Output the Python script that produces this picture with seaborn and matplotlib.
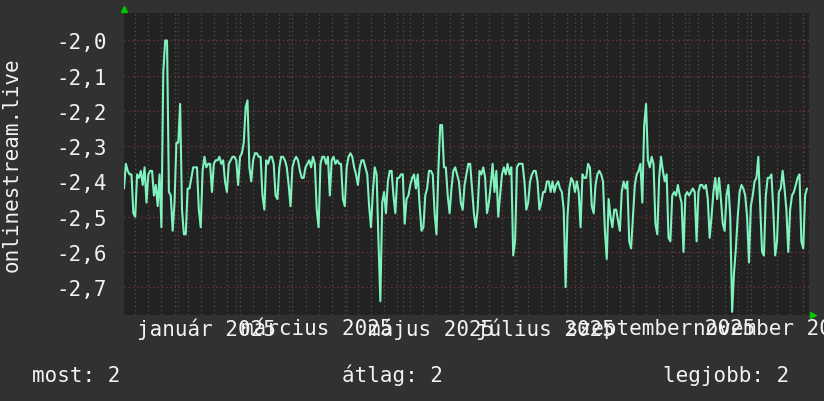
import matplotlib
matplotlib.use('Agg')
from matplotlib import pyplot as plt
from matplotlib import ticker
import numpy as np
import pandas as pd
import seaborn as sns

# daily values, first day 2024-12-03
start_day = '2024-12-03'
values = [
    -2.42, -2.35, -2.37, -2.38, -2.38, -2.49, -2.50, -2.38, -2.39, -2.37,
    -2.41, -2.36, -2.46, -2.38, -2.37, -2.37, -2.44, -2.41, -2.47, -2.38,
    -2.53, -2.09, -2.00, -2.00, -2.43, -2.44, -2.54, -2.46, -2.29, -2.29,
    -2.18, -2.48, -2.55, -2.55, -2.42, -2.42, -2.39, -2.36, -2.36, -2.36,
    -2.48, -2.53, -2.37, -2.33, -2.36, -2.35, -2.35, -2.43, -2.35, -2.34,
    -2.34, -2.33, -2.35, -2.34, -2.40, -2.43, -2.35, -2.34, -2.33, -2.33,
    -2.34, -2.41, -2.33, -2.32, -2.29, -2.19, -2.17, -2.36, -2.40, -2.34,
    -2.32, -2.32, -2.33, -2.33, -2.44, -2.48, -2.34, -2.35, -2.33, -2.33,
    -2.35, -2.44, -2.45, -2.36, -2.33, -2.33, -2.34, -2.36, -2.41, -2.47,
    -2.36, -2.34, -2.33, -2.34, -2.37, -2.39, -2.39, -2.36, -2.35, -2.34,
    -2.36, -2.33, -2.35, -2.48, -2.53, -2.35, -2.33, -2.33, -2.35, -2.33,
    -2.44, -2.34, -2.33, -2.35, -2.34, -2.35, -2.35, -2.45, -2.47, -2.36,
    -2.33, -2.32, -2.33, -2.36, -2.38, -2.41, -2.36, -2.34, -2.34, -2.36,
    -2.38, -2.47, -2.53, -2.43, -2.36, -2.38, -2.57, -2.74, -2.46, -2.43,
    -2.49, -2.40, -2.37, -2.37, -2.44, -2.49, -2.39, -2.39, -2.38, -2.38,
    -2.52, -2.45, -2.44, -2.41, -2.39, -2.38, -2.42, -2.38, -2.47, -2.54,
    -2.53, -2.44, -2.42, -2.37, -2.37, -2.38, -2.49, -2.55, -2.37, -2.24,
    -2.24, -2.36, -2.36, -2.44, -2.49, -2.42, -2.37, -2.36, -2.38, -2.40,
    -2.46, -2.48, -2.41, -2.38, -2.35, -2.35, -2.42, -2.49, -2.53, -2.48,
    -2.37, -2.38, -2.36, -2.39, -2.49, -2.46, -2.41, -2.35, -2.43, -2.37,
    -2.50, -2.44, -2.38, -2.36, -2.38, -2.35, -2.38, -2.36, -2.61, -2.57,
    -2.36, -2.35, -2.35, -2.35, -2.40, -2.48, -2.46, -2.40, -2.38, -2.37,
    -2.37, -2.40, -2.48, -2.46, -2.43, -2.43, -2.40, -2.40, -2.43, -2.40,
    -2.43, -2.41, -2.40, -2.42, -2.43, -2.48, -2.70, -2.50, -2.42, -2.39,
    -2.40, -2.43, -2.40, -2.43, -2.53, -2.38, -2.39, -2.39, -2.35, -2.36,
    -2.47, -2.49, -2.41, -2.38, -2.37, -2.38, -2.40, -2.54, -2.62, -2.45,
    -2.50, -2.53, -2.48, -2.48, -2.51, -2.54, -2.43, -2.40, -2.42, -2.40,
    -2.57, -2.59, -2.50, -2.41, -2.38, -2.37, -2.35, -2.46, -2.24, -2.18,
    -2.34, -2.36, -2.33, -2.35, -2.52, -2.55, -2.39, -2.33, -2.37, -2.40,
    -2.38, -2.56, -2.57, -2.44, -2.43, -2.44, -2.41, -2.44, -2.46, -2.60,
    -2.44, -2.43, -2.44, -2.43, -2.42, -2.43, -2.57, -2.43, -2.41, -2.41,
    -2.42, -2.41, -2.45, -2.56, -2.50, -2.43, -2.39, -2.45, -2.39, -2.45,
    -2.52, -2.54, -2.44, -2.41, -2.50, -2.77, -2.66, -2.59, -2.50, -2.43,
    -2.41, -2.42, -2.44, -2.50, -2.63, -2.47, -2.44, -2.40, -2.39, -2.33,
    -2.47, -2.60, -2.61, -2.44, -2.39, -2.39, -2.38, -2.48, -2.61, -2.57,
    -2.43, -2.42, -2.37, -2.42, -2.48, -2.60, -2.48, -2.44, -2.43, -2.41,
    -2.39, -2.38, -2.57, -2.59, -2.44, -2.42,
]

y_ticks = [-2.7, -2.6, -2.5, -2.4, -2.3, -2.2, -2.1, -2.0]
month_labels = ['január 2025', 'március 2025', 'május 2025',
                'július 2025', 'szeptember 2025', 'november 2025']
label_days = ['2025-01-16', '2025-03-16', '2025-05-16',
              '2025-07-16', '2025-09-16', '2025-11-16']
series_name = 'onlinestream.live'
stat_names = ['most', 'átlag', 'legjobb']
stat_values = ['2', '2', '2']

bg = '#313131'
plot_bg = '#222222'
line_color = '#7ff2bd'
major_grid = '#6a3636'
minor_grid = '#4e4e4e'
text_color = '#f2f2f2'

sns.set_theme(style='dark', rc={'axes.facecolor': plot_bg, 'figure.facecolor': bg})
plt.rcParams['font.family'] = ['DejaVu Sans Mono', 'DejaVu Sans']

df = pd.DataFrame({'day': pd.date_range(start_day, periods=len(values), freq='D'),
                   'value': values})

fig = plt.figure(figsize=(8.24, 4.02), dpi=100, facecolor=bg)
ax = fig.add_axes([124 / 824, 86 / 402, 685 / 824, 302 / 402])
ax.set_facecolor(plot_bg)

# weekly (monday) and monthly grid lines
dotted = (0, (1, 2))
for d in pd.date_range('2024-12-09', '2025-12-04', freq='7D'):
    ax.axvline(d, color=minor_grid, lw=1, ls=dotted, zorder=1)
for d in pd.date_range('2025-01-01', '2025-12-01', freq='MS'):
    ax.axvline(d, color=major_grid, lw=1, ls=dotted, zorder=1)
for y in y_ticks:
    ax.axhline(y, color=major_grid, lw=1, ls=dotted, zorder=1)

sns.lineplot(data=df, x='day', y='value', ax=ax, color=line_color, lw=1.5, zorder=3)

ax.set_xlim(pd.Timestamp('2024-12-03'), pd.Timestamp('2025-12-04 02:00'))
ax.set_ylim(-2.779, -1.922)
ax.set_yticks(y_ticks)
ax.yaxis.set_major_formatter(ticker.FuncFormatter(lambda v, p: f'{v:.1f}'.replace('.', ',')))
ax.set_xticks(pd.to_datetime(label_days))
ax.set_xticklabels(month_labels)
ax.tick_params(axis='both', length=0, colors=text_color, labelsize=15)
ax.tick_params(axis='y', pad=12)
ax.tick_params(axis='x', pad=2)
ax.set_xlabel('')
ax.set_ylabel('')
ax.grid(False)
for s in ax.spines.values():
    s.set_visible(False)

# green arrow heads of the axes
ax.plot([0], [1.012], marker='^', ms=5, color='#00c800', transform=ax.transAxes, clip_on=False)
ax.plot([1.006], [0], marker='>', ms=5, color='#00c800', transform=ax.transAxes, clip_on=False)

fig.text(12 / 824, 237 / 402, series_name, rotation=90, ha='center', va='center',
         color=text_color, fontsize=15)

stat_x = [32, 342, 663]
for x, name, val in zip(stat_x, stat_names, stat_values):
    fig.text(x / 824, 20 / 402, f'{name}: {val}', ha='left', va='baseline',
             color=text_color, fontsize=15)

fig.savefig('out.png', dpi=100, facecolor=bg)
